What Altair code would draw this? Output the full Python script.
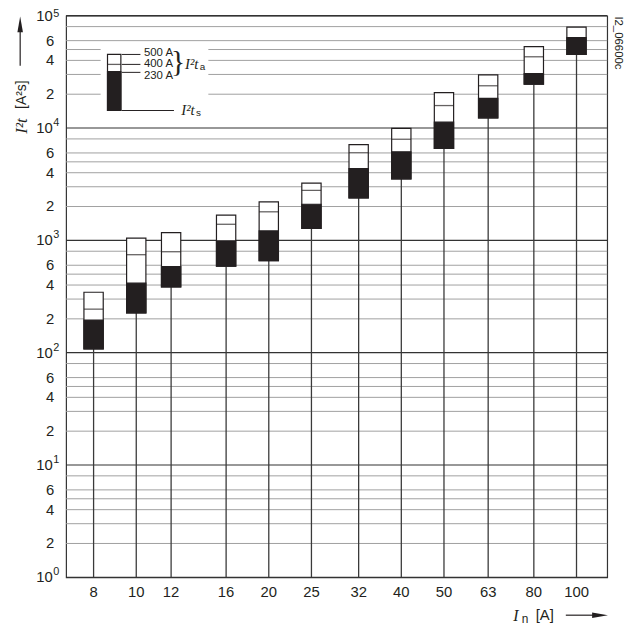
import altair as alt
import pandas as pd

# ---------------- data ----------------
ratings = [8, 10, 12, 16, 20, 25, 32, 40, 50, 63, 80, 100]
rating_labels = ["8", "10", "12", "16", "20", "25", "32", "40", "50", "63", "80", "100"]
i2t_s = [108, 226, 384, 588, 660, 1280, 2384, 3531, 6570, 12330, 24560, 45130]
i2t_a_230 = [195, 416, 584, 990, 1213, 2097, 4351, 6145, 11290, 18370, 30530, 63700]
i2t_a_400 = [244, 745, 792, 1390, 1795, 2786, 6023, 7946, 15850, 23780, 43080, 63700]
i2t_a_500 = [345, 1045, 1172, 1678, 2198, 3228, 7127, 9940, 20640, 29730, 53100, 79200]

decades = [1, 10, 100, 1000, 10000, 100000]
decade_exp = ["0", "1", "2", "3", "4", "5"]
labelled_mult = [2, 4, 6]
minor_mult = [2, 3, 4, 5, 6, 8]

# legend key (in data coordinates)
legend_x = [8.91]
legend_vals = {"s": 14320, "230": 31780, "400": 36860, "500": 45200}

INK = "#231f20"
SANS = "Liberation Sans"
SERIF = "Liberation Serif"

W, H = 546.8, 567.5
xs = alt.Scale(type="log", domain=[7.11, 114.4], nice=False)
ys = alt.Scale(type="log", domain=[1, 100000], nice=False)

df = pd.DataFrame({
    "r": ratings, "lab": rating_labels, "s": i2t_s, "a230": i2t_a_230,
    "a400": i2t_a_400, "a500": i2t_a_500, "base": [1] * len(ratings)})

minor_vals = [m * d for d in decades[:-1] for m in minor_mult]
grid_minor = pd.DataFrame({"v": minor_vals})
grid_major = pd.DataFrame({"v": decades})
tick_vals = sorted(decades + [m * d for d in decades[:-1] for m in labelled_mult])
digit_df = pd.DataFrame({"v": [m * d for d in decades[:-1] for m in labelled_mult],
                         "t": [str(m) for d in decades[:-1] for m in labelled_mult]})
dec_df = pd.DataFrame({"v": decades, "t": ["10"] * len(decades), "e": decade_exp})


def X(f):
    return alt.X(f, type="quantitative", scale=xs, axis=None)


def Y(f):
    return alt.Y(f, type="quantitative", scale=ys, axis=None)


def one():
    return alt.Chart(pd.DataFrame({"k": [0]}))


layers = []

# gridlines
layers.append(alt.Chart(grid_minor).mark_rule(color="#a0a0a0", strokeWidth=1).encode(
    y=Y("v"), x=alt.value(0), x2=alt.value(W)))
layers.append(alt.Chart(grid_major).mark_rule(color="#333333", strokeWidth=1.2).encode(
    y=Y("v"), x=alt.value(0), x2=alt.value(W)))

# white box behind legend
box = pd.DataFrame({"x0": [8.30], "x1": [14.58], "y0": [12000], "y1": [54950]})
layers.append(alt.Chart(box).mark_rect(color="white").encode(
    x=X("x0"), x2="x1", y=Y("y0"), y2="y1"))

# stems (carry the y axis ticks)
layers.append(alt.Chart(df).mark_rule(color="#3a3a3a", strokeWidth=1.3).encode(
    x=X("r"),
    y=alt.Y("base:Q", scale=ys, title=None,
            axis=alt.Axis(values=tick_vals, labels=False, ticks=True, tickSize=4,
                          tickColor="#333333", tickWidth=1, grid=False,
                          domainColor="#333333", domainWidth=1.2)),
    y2="s:Q"))

# x tick labels
layers.append(alt.Chart(df).mark_text(align="center", baseline="middle", font=SANS,
                                      fontSize=15, color=INK).encode(
    x=X("r"), y=alt.value(H + 14.5), text="lab:N"))

# bars
layers.append(alt.Chart(df).mark_bar(size=19.5, fill="white", stroke=INK, strokeWidth=1.2,
                                     orient="vertical").encode(
    x=X("r"), y=Y("s"), y2="a500:Q"))
layers.append(alt.Chart(df).mark_bar(size=19.5, fill=INK, stroke=INK, strokeWidth=1.2,
                                     orient="vertical").encode(
    x=X("r"), y=Y("s"), y2="a230:Q"))
layers.append(alt.Chart(df).mark_tick(orient="horizontal", size=19.5, thickness=1.3,
                                      color=INK).encode(x=X("r"), y=Y("a400")))

# legend key
leg = pd.DataFrame({"x": legend_x, "s": [legend_vals["s"]], "a230": [legend_vals["230"]],
                    "a400": [legend_vals["400"]], "a500": [legend_vals["500"]]})
layers.append(alt.Chart(leg).mark_bar(size=13.5, fill="white", stroke=INK, strokeWidth=1.2,
                                      orient="vertical").encode(
    x=X("x"), y=Y("s"), y2="a500:Q"))
layers.append(alt.Chart(leg).mark_bar(size=13.5, fill=INK, stroke=INK, strokeWidth=1.2,
                                      orient="vertical").encode(
    x=X("x"), y=Y("s"), y2="a230:Q"))
layers.append(alt.Chart(leg).mark_tick(orient="horizontal", size=13.5, thickness=1.3,
                                       color=INK).encode(x=X("x"), y=Y("a400")))

leaders = pd.DataFrame({
    "x0": [9.27, 9.27, 9.27, 9.27],
    "x1": [10.22, 10.22, 10.22, 12.18],
    "y": [legend_vals["500"], legend_vals["400"], 31300, legend_vals["s"]]})
layers.append(alt.Chart(leaders).mark_rule(color=INK, strokeWidth=1).encode(
    x=X("x0"), x2="x1", y=Y("y")))

leg_text = pd.DataFrame({"x": [10.41, 10.41, 10.41], "y": [47000, 36860, 29300],
                         "t": ["500 A", "400 A", "230 A"]})
layers.append(alt.Chart(leg_text).mark_text(align="left", baseline="middle", font=SANS,
                                            fontSize=11.5, color=INK).encode(
    x=X("x"), y=Y("y"), text="t:N"))

brace = pd.DataFrame({"x": [12.45], "y": [36860], "t": ["}"]})
layers.append(alt.Chart(brace).mark_text(align="center", baseline="middle", font=SERIF,
                                         fontSize=30, color=INK, dy=-2).encode(
    x=X("x"), y=Y("y"), text="t:N"))

sym = pd.DataFrame({"x": [12.90, 12.65], "y": [36860, 14320], "t": ["I²t", "I²t"]})
layers.append(alt.Chart(sym).mark_text(align="left", baseline="middle", font=SERIF,
                                       fontStyle="italic", fontSize=15, color=INK).encode(
    x=X("x"), y=Y("y"), text="t:N"))
subs = pd.DataFrame({"x": [12.90, 12.65], "y": [36860, 14320], "t": ["a", "s"]})
layers.append(alt.Chart(subs).mark_text(align="left", baseline="middle", font=SANS,
                                        fontSize=10, color=INK, dx=15, dy=3).encode(
    x=X("x"), y=Y("y"), text="t:N"))

# y tick labels
layers.append(alt.Chart(digit_df).mark_text(align="right", baseline="middle", font=SANS,
                                            fontSize=15, color=INK).encode(
    y=Y("v"), x=alt.value(-12), text="t:N"))
layers.append(alt.Chart(dec_df).mark_text(align="right", baseline="middle", font=SANS,
                                          fontSize=15, color=INK).encode(
    y=Y("v"), x=alt.value(-13.5), text="t:N"))
layers.append(alt.Chart(dec_df[dec_df["v"] < 100000]).mark_text(
    align="left", baseline="middle", font=SANS, fontSize=11, color=INK, dy=-5).encode(
    y=Y("v"), x=alt.value(-13), text="e:N"))
layers.append(alt.Chart(dec_df[dec_df["v"] >= 100000]).mark_text(
    align="left", baseline="middle", font=SANS, fontSize=11, color=INK, dy=-2).encode(
    y=Y("v"), x=alt.value(-13), text="e:N"))


# axis titles and arrows (annotations, pixel placed)
def ann(text, x, y, **kw):
    return one().mark_text(**kw).encode(x=alt.value(x), y=alt.value(y),
                                        text=alt.value(text))


layers.append(ann("I²t", -45, 119.2, angle=270, align="left", baseline="middle",
                  font=SERIF, fontStyle="italic", fontSize=17, color=INK))
layers.append(ann("[A²s]", -45, 94.2, angle=270, align="left", baseline="middle",
                  font=SANS, fontSize=14, color=INK))
layers.append(one().mark_rule(color=INK, strokeWidth=1.2).encode(
    x=alt.value(-46.4), y=alt.value(8), y2=alt.value(50.5)))
layers.append(one().mark_point(shape="M0,-1L0.35,1L-0.35,1Z", size=256, filled=True,
                               opacity=1, color=INK).encode(
    x=alt.value(-46.4), y=alt.value(8.8)))

layers.append(ann("I", 452, 611.5, align="left", baseline="alphabetic", font=SERIF,
                  fontStyle="italic", fontSize=16, color=INK))
layers.append(ann("n", 460.5, 613.5, align="left", baseline="alphabetic", font=SANS,
                  fontSize=12, color=INK))
layers.append(ann("[A]", 474.5, 611, align="left", baseline="alphabetic", font=SANS,
                  fontSize=15, color=INK))
layers.append(one().mark_rule(color=INK, strokeWidth=1.2).encode(
    x=alt.value(505), x2=alt.value(535), y=alt.value(605.8)))
layers.append(one().mark_point(shape="M1,0L-1,-0.35L-1,0.35Z", size=256, filled=True,
                               opacity=1, color=INK).encode(
    x=alt.value(539.6), y=alt.value(605.8)))

layers.append(ann("I2_06600c", 557.3, 27.5, angle=90, align="center", baseline="middle",
                  font=SANS, fontSize=11.5, color=INK))

chart = alt.layer(*layers).properties(
    width=W, height=H,
    autosize=alt.AutoSizeParams(type="none"),
    padding={"left": 58.7, "top": 4.5, "right": 17, "bottom": 52},
).configure_view(stroke="#333333", strokeWidth=1.2)

chart.save("out.html", embed_options={"renderer": "svg", "actions": False})
